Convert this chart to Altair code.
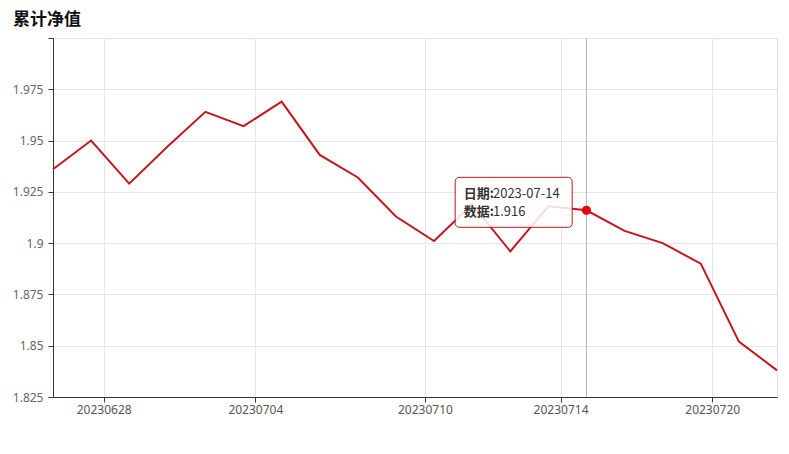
import altair as alt
import pandas as pd

# ---- data ----
dates = [
    "2023-06-26", "2023-06-27", "2023-06-28", "2023-06-29", "2023-06-30",
    "2023-07-03", "2023-07-04", "2023-07-05", "2023-07-06", "2023-07-07",
    "2023-07-10", "2023-07-11", "2023-07-12", "2023-07-13", "2023-07-14",
    "2023-07-17", "2023-07-18", "2023-07-19", "2023-07-20", "2023-07-21",
]
values = [
    1.936, 1.950, 1.929, 1.947, 1.964,
    1.957, 1.969, 1.943, 1.932, 1.913,
    1.901, 1.919, 1.896, 1.918, 1.916,
    1.906, 1.900, 1.890, 1.852, 1.838,
]
x_tick_pos = [1.33, 5.31, 9.76, 13.32, 17.3]
x_tick_labels = ["20230628", "20230704", "20230710", "20230714", "20230720"]
y_ticks = [1.825, 1.85, 1.875, 1.9, 1.925, 1.95, 1.975, 2.0]
highlight_date = "2023-07-14"
title_text = "累计净值"

df = pd.DataFrame({"idx": list(range(len(dates))), "date": dates, "value": values})

label_expr = "''"
for p, l in zip(x_tick_pos, x_tick_labels):
    label_expr = f"abs(datum.value - {p}) < 0.01 ? '{l}' : " + label_expr

x_enc = alt.X(
    "idx:Q",
    scale=alt.Scale(domain=[0, len(dates) - 1], nice=False, zero=False),
    axis=alt.Axis(
        values=x_tick_pos, labelExpr=label_expr, title=None,
        grid=True, gridColor="#e6e6e6", domainColor="#333", tickColor="#333",
        tickSize=5, labelColor="#555", labelFontSize=12, labelFont="Noto Sans",
        labelPadding=2, labelFlush=False, labelOverlap=False,
    ),
)
y_enc = alt.Y(
    "value:Q",
    scale=alt.Scale(domain=[1.825, 2.0], nice=False, zero=False),
    axis=alt.Axis(
        values=y_ticks, title=None,
        labelExpr="datum.value >= 1.999 ? '' : format(datum.value, '.4~f')",
        grid=True, gridColor="#e6e6e6", domainColor="#333", tickColor="#333",
        tickSize=5, labelColor="#666", labelFontSize=12, labelFont="Noto Sans",
        labelPadding=5,
    ),
)

base = alt.Chart(df)
line = base.mark_line(color="#c4161c", strokeWidth=2).encode(x=x_enc, y=y_enc)

hl = base.transform_filter(alt.datum.date == highlight_date)
pointer = hl.mark_rule(color="#b5b5b5", strokeWidth=1).encode(x="idx:Q")
dot = hl.mark_point(filled=True, color="#e8000b", size=85, opacity=1).encode(x="idx:Q", y="value:Q")
box = hl.mark_rect(
    width=117, height=50, xOffset=-72.8, yOffset=-8,
    fill="white", fillOpacity=0.85, stroke="#c4161c", strokeWidth=1, cornerRadius=4,
).encode(x="idx:Q", y="value:Q")

tfont = "Noto Sans CJK SC"
lab1 = hl.mark_text(text="日期:", align="left", baseline="middle", dx=-122.7, dy=-16,
                    font=tfont, fontSize=13, fontWeight="bold", color="#333").encode(x="idx:Q", y="value:Q")
val1 = hl.mark_text(align="left", baseline="middle", dx=-93.5, dy=-16,
                    font=tfont, fontSize=13, color="#333").encode(x="idx:Q", y="value:Q", text="date:N")
lab2 = hl.mark_text(text="数据:", align="left", baseline="middle", dx=-122.7, dy=2,
                    font=tfont, fontSize=13, fontWeight="bold", color="#333").encode(x="idx:Q", y="value:Q")
val2 = hl.mark_text(align="left", baseline="middle", dx=-93.5, dy=2,
                    font=tfont, fontSize=13, color="#333").encode(
    x="idx:Q", y="value:Q", text=alt.Text("value:Q", format=".3f"))

chart = alt.layer(line, pointer, dot, box, lab1, val1, lab2, val2).properties(
    width=724, height=359,
    title=alt.TitleParams(
        text=title_text, anchor="start", frame="group", orient="top",
        font=tfont, fontSize=17, fontWeight="bold", color="#111",
        dx=-40, offset=1, baseline="middle",
    ),
    autosize=alt.AutoSizeParams(type="none"),
    padding={"left": 45, "top": 30, "right": 2, "bottom": 30},
).configure_view(stroke="#cccccc", strokeWidth=1).configure(background="white")

chart.save("out.html", embed_options={"renderer": "svg", "actions": False})
